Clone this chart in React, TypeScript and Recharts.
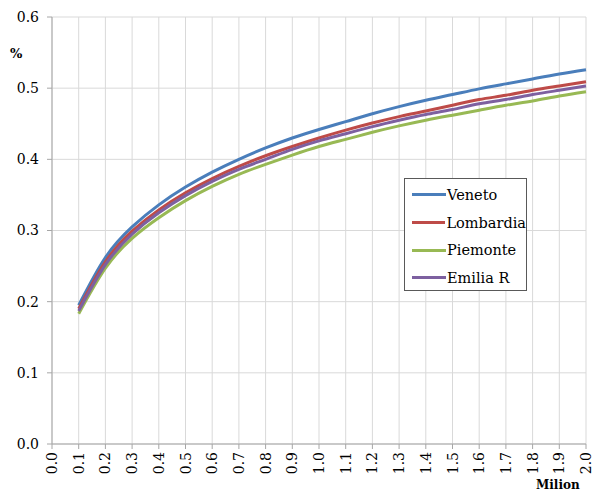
import * as React from "react";
import { LineChart, Line, XAxis, YAxis, CartesianGrid } from "recharts";

// population (millions) and share (%) per region
const milion = [0.1, 0.2, 0.3, 0.4, 0.5, 0.6, 0.7, 0.8, 0.9, 1.0, 1.1, 1.2, 1.3, 1.4, 1.5, 1.6, 1.7, 1.8, 1.9, 2.0];
const veneto = [0.195, 0.262, 0.305, 0.336, 0.361, 0.382, 0.400, 0.416, 0.430, 0.442, 0.453, 0.464, 0.474, 0.483, 0.491, 0.499, 0.506, 0.513, 0.520, 0.526];
const lombardia = [0.190, 0.256, 0.299, 0.329, 0.353, 0.373, 0.390, 0.405, 0.418, 0.430, 0.441, 0.451, 0.460, 0.468, 0.476, 0.484, 0.490, 0.497, 0.503, 0.509];
const piemonte = [0.183, 0.247, 0.289, 0.318, 0.342, 0.362, 0.379, 0.393, 0.406, 0.418, 0.428, 0.438, 0.447, 0.455, 0.462, 0.469, 0.476, 0.482, 0.489, 0.495];
const emilia = [0.187, 0.252, 0.295, 0.325, 0.349, 0.369, 0.386, 0.400, 0.414, 0.426, 0.436, 0.446, 0.455, 0.463, 0.470, 0.478, 0.484, 0.491, 0.497, 0.503];

const xTicks = [0, 0.1, 0.2, 0.3, 0.4, 0.5, 0.6, 0.7, 0.8, 0.9, 1.0, 1.1, 1.2, 1.3, 1.4, 1.5, 1.6, 1.7, 1.8, 1.9, 2.0];
const yTicks = [0, 0.1, 0.2, 0.3, 0.4, 0.5, 0.6];

const series = [
	{ key: "Veneto", values: veneto, color: "#4a7ebb" },
	{ key: "Lombardia", values: lombardia, color: "#be4b48" },
	{ key: "Piemonte", values: piemonte, color: "#98b954" },
	{ key: "Emilia R", values: emilia, color: "#7d60a0" },
];

const data = milion.map((m, i) => {
	const row: any = { m };
	series.forEach((s) => { row[s.key] = s.values[i]; });
	return row;
});

const serif = "DejaVu Serif";
const axisGray = "#a6a6a6";

const XTick = (props: any) => {
	const { x, y, payload } = props;
	return <text
		x={x}
		y={y}
		transform={`rotate(-90, ${x}, ${y})`}
		textAnchor="end"
		dominantBaseline="central"
		fontFamily={serif}
		fontSize={14}
		fill="#000"
	>
		{payload.value.toFixed(1)}
	</text>
}

// legend box sits over the plot, so it is drawn outside the chart layout
const LegendBox = () => <div style={{
	position: "absolute",
	left: 404,
	top: 178,
	border: "1px solid #595959",
	background: "#fff",
	width: 123,
	height: 113,
	boxSizing: "border-box",
	paddingTop: 2,
	fontFamily: serif,
	fontSize: 14.5,
	color: "#000",
}}>
	{series.map((s) => <div key={s.key} style={{ display: "flex", alignItems: "center", height: 27.7 }}>
		<div style={{ width: 34, height: 3, background: s.color, marginLeft: 7, marginRight: 1 }} />
		<span>{s.key}</span>
	</div>)}
</div>

const App: React.FC = () => {
	return <div style={{ position: "absolute", left: 0, top: 0, width: 597, height: 491, background: "#fff", overflow: "hidden" }}>
		<LineChart
			width={597}
			height={491}
			data={data}
			margin={{ top: 17, right: 11, left: 0, bottom: 0 }}
		>
			<CartesianGrid stroke="#d9d9d9" strokeWidth={1} />
			<XAxis
				dataKey="m"
				type="number"
				domain={[0, 2]}
				ticks={xTicks}
				interval={0}
				height={47}
				tickSize={5}
				tickMargin={3}
				axisLine={{ stroke: axisGray }}
				tickLine={{ stroke: axisGray }}
				tick={<XTick />}
			/>
			<YAxis
				type="number"
				domain={[0, 0.6]}
				ticks={yTicks}
				interval={0}
				width={52}
				tickSize={5}
				tickMargin={8}
				axisLine={{ stroke: axisGray }}
				tickLine={{ stroke: axisGray }}
				tickFormatter={(v: number) => v.toFixed(1)}
				tick={{ fontFamily: serif, fontSize: 14, fill: "#000" }}
			/>
			{series.map((s) => <Line
				key={s.key}
				dataKey={s.key}
				type="natural"
				stroke={s.color}
				strokeWidth={3}
				dot={false}
				activeDot={false}
				isAnimationActive={false}
			/>)}
			<text x={10} y={58} fontFamily={serif} fontSize={13} fontWeight="bold" fill="#000">%</text>
			<text x={536} y={489} fontFamily={serif} fontSize={12} fontWeight="bold" fill="#000">Milion</text>
		</LineChart>
		<LegendBox />
	</div>
}

export default App;
